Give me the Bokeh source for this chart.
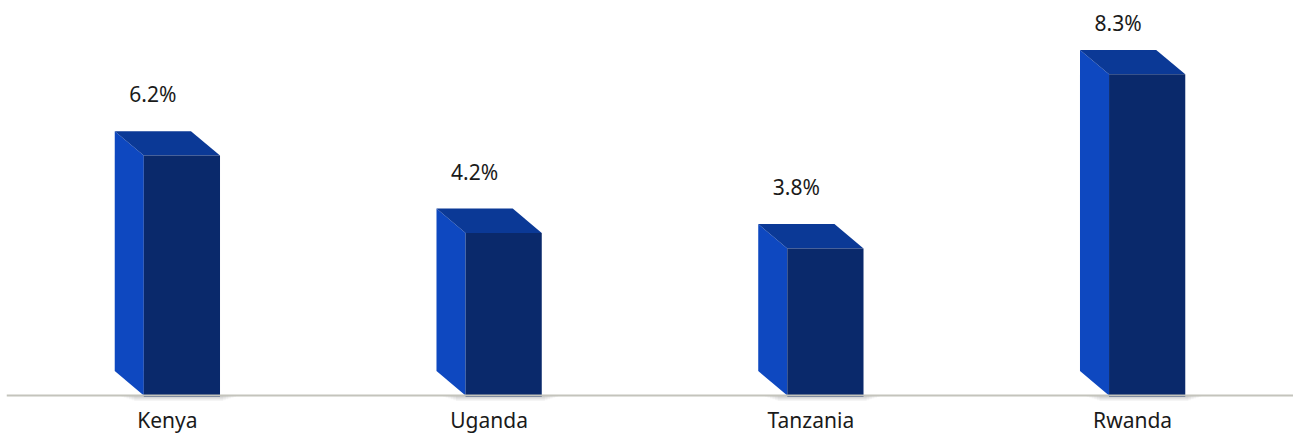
from bokeh.plotting import figure
from bokeh.models import Range1d, FixedTicker, Span, ColumnDataSource
from bokeh.embed import file_html
from bokeh.resources import INLINE
from bokeh.core.properties import value

countries = ["Kenya", "Uganda", "Tanzania", "Rwanda"]
growth = [6.2, 4.2, 3.8, 8.3]
labels = ["6.2%", "4.2%", "3.8%", "8.3%"]

SIDE = "#0e48c0"
TOP = "#0b3996"
FRONT = "#0a296b"

HALF = 0.1636   # half of whole 3D block width (x units)
DX = 0.0903     # depth offset in x
DY = 0.63       # depth offset in y

p = figure(width=1293, height=437, output_backend="svg", toolbar_location=None,
           x_range=Range1d(0, 4), y_range=Range1d(-0.207, 10),
           min_border_left=6, min_border_right=0, min_border_top=8, min_border_bottom=34)
p.outline_line_color = None
p.background_fill_color = "white"
p.border_fill_color = "white"
p.grid.visible = False
p.yaxis.visible = False

centers = [i + 0.5 for i in range(len(countries))]

xs_side, ys_side, xs_top, ys_top = [], [], [], []
left, right, top = [], [], []
lx, ly = [], []
for c, v in zip(centers, growth):
    xl = c - HALF
    xf = xl + DX
    xr = c + HALF
    xs_side.append([xl, xf, xf, xl])
    ys_side.append([v + DY, v, 0, DY])
    xs_top.append([xl, xr - DX, xr, xf])
    ys_top.append([v + DY, v + DY, v, v])
    left.append(xf); right.append(xr); top.append(v)
    lx.append(xl + (xr - DX - xl) / 2)
    ly.append(min(v + DY + 0.95, 9.62))

# soft shadow below each block
for k in range(6):
    ext = 0.008 * k
    p.quad(left=[l - 0.03 - ext for l in left], right=[r + 0.01 + ext for r in right],
           bottom=-0.04 - 0.02 * (5 - k), top=0, fill_color="#000000", fill_alpha=0.03,
           line_color=None)

p.patches(xs_side, ys_side, fill_color=SIDE, line_color=None)
p.patches(xs_top, ys_top, fill_color=TOP, line_color=None)
p.quad(left=left, right=right, bottom=-0.03, top=top, fill_color=FRONT, line_color=None)

src = ColumnDataSource(dict(x=lx, y=ly, t=labels))
p.text(x="x", y="y", text="t", source=src, text_align="center", text_baseline="middle",
       text_font=value("Noto Sans"), text_font_size="21px", text_color="#1a1a1a")

p.add_layout(Span(location=0, dimension="width", line_color="#c4c4bc", line_width=2))

p.xaxis.ticker = FixedTicker(ticks=centers)
p.xaxis.major_label_overrides = {c: n for c, n in zip(centers, countries)}
p.xaxis.axis_line_color = None
p.xaxis.major_tick_line_color = None
p.xaxis.minor_tick_line_color = None
p.xaxis.major_tick_out = 0
p.xaxis.major_tick_in = 0
p.xaxis.major_label_standoff = 2
p.xaxis.major_label_text_font = "Noto Sans"
p.xaxis.major_label_text_font_size = "21px"
p.xaxis.major_label_text_color = "#1a1a1a"

open("out.html", "w").write(file_html(p, INLINE))
